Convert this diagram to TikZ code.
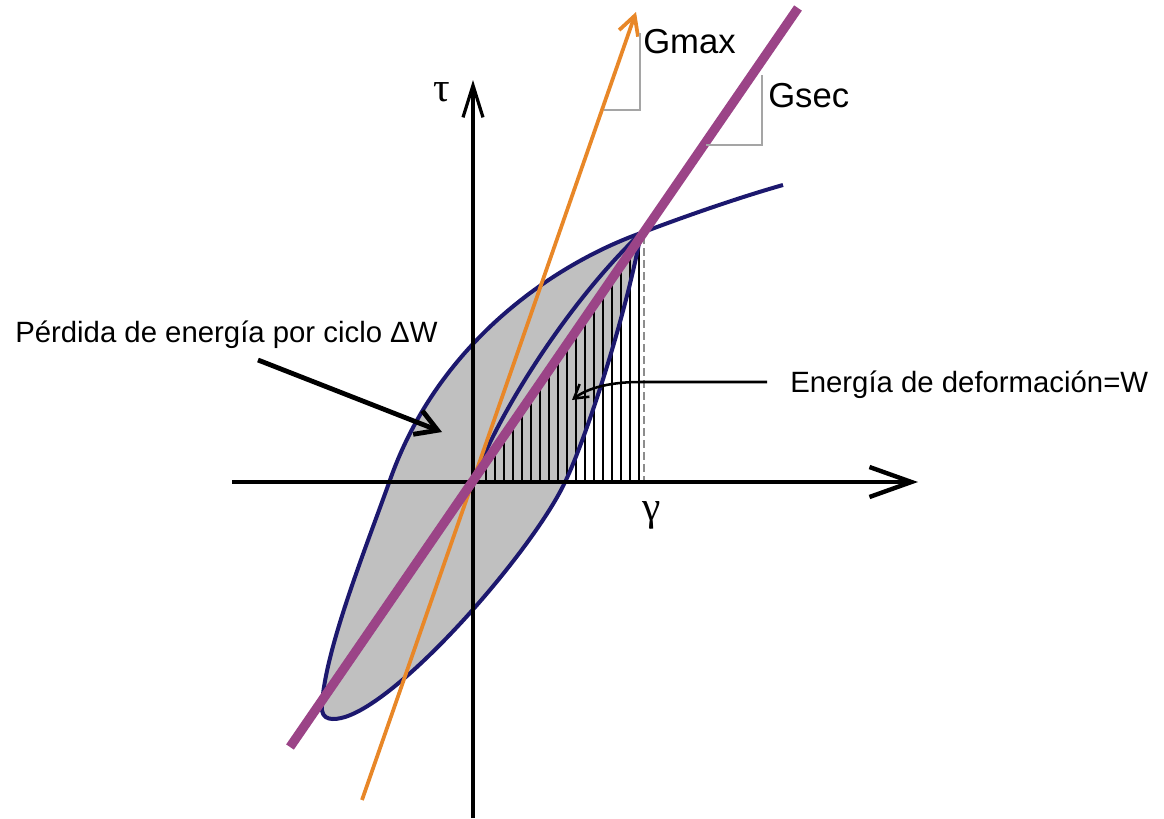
\documentclass[tikz,border=0pt]{standalone}
\usepackage{fontspec}
\setmainfont{Liberation Sans}
\newfontfamily\serifgreek{Liberation Serif}
\usetikzlibrary{arrows.meta}
\definecolor{loopblue}{RGB}{28,24,110}
\definecolor{loopgray}{RGB}{192,192,192}
\definecolor{gmaxorange}{RGB}{232,135,40}
\definecolor{gsecpurple}{RGB}{155,68,135}
\definecolor{slopegray}{RGB}{165,165,165}
\definecolor{dashgray}{RGB}{140,140,140}
\begin{document}
\begin{tikzpicture}[x=0.75pt,y=-0.75pt,
  lbl/.style={inner sep=0pt, font=\fontsize{22}{26}\selectfont},
  glbl/.style={inner sep=0pt, font=\fontsize{26}{30}\selectfont},
  greek/.style={inner sep=0pt, font=\serifgreek\fontsize{31}{34}\selectfont},
  loopline/.style={draw=loopblue, line width=3pt, line join=round},
  haxis/.style={black, line width=3.3pt, -{Straight Barb[length=31.5pt,width=22.5pt]}},
  vaxis/.style={black, line width=2.4pt, -{Straight Barb[length=24pt,width=15pt]}},
  gmaxline/.style={gmaxorange, line width=2.8pt, -{Straight Barb[length=14pt,width=15pt]}},
  gsecline/.style={gsecpurple, line width=7pt},
  hatchline/.style={black, line width=1.8pt},
  dashline/.style={dashgray, line width=1.8pt, dash pattern=on 6pt off 3pt},
  slopeline/.style={slopegray, line width=2.2pt},
  bigarrow/.style={black, line width=3.6pt, -{Straight Barb[length=16pt,width=19pt]}},
  thinarrow/.style={black, line width=1.9pt, -{Straight Barb[length=10pt,width=12pt]}}
]
\useasboundingbox (0,0) rectangle (1164,818);

% loop fill
\path[fill=loopgray] (641,233) .. controls (560,262) and (440,338) .. (390,480)
  .. controls (365,550) and (325,650) .. (322,705)
  .. controls (320,722) and (335,720) .. (345,717)
  .. controls (405,698) and (535,548) .. (566,480)
  .. controls (585,440) and (625,320) .. (641,233) -- cycle;

% hatching under the secant
\foreach \x in {477,486,...,639} {
  \draw[hatchline] (\x,482) -- (\x,{482-(\x-473)*1.482});
}
\coordinate (dtop) at (644,236);
\coordinate (dbot) at (644,482);
\draw[dashline] (dtop) -- (dbot);

% loop outline
\draw[loopline] (641,233) .. controls (560,262) and (440,338) .. (390,480)
  .. controls (365,550) and (325,650) .. (322,705)
  .. controls (320,722) and (335,720) .. (345,717)
  .. controls (405,698) and (535,548) .. (566,480)
  .. controls (585,440) and (625,320) .. (641,233);
% backbone curve
\coordinate (O) at (473,482);
\coordinate (peak) at (641,233);
\coordinate (bbend) at (783,185);
\draw[loopline] (O) .. controls (495,420) and (565,305) .. (peak);
\draw[loopline] (peak) .. controls (670,222) and (730,200) .. (bbend);

% axes
\coordinate (xs) at (232,482);
\coordinate (xe) at (918,482);
\coordinate (ys) at (473,818);
\coordinate (ye) at (473,80);
\draw[haxis] (xs) -- (xe);
\draw[vaxis] (ys) -- (ye);

% Gmax and Gsec lines
\coordinate (os) at (362,800);
\coordinate (oe) at (636,12);
\draw[gmaxline] (os) -- (oe);
\coordinate (ps) at (290,747);
\coordinate (pe) at (798,8);
\draw[gsecline] (ps) -- (pe);

% slope triangles
\draw[slopeline] (604,110) -- (640,110) -- (640,33);
\draw[slopeline] (706,145) -- (762,145) -- (762,75);

% labels
\node[glbl, anchor=base west] (gmax) at (643,53) {Gmax};
\node[glbl, anchor=base west] (gsec) at (768,107) {Gsec};
\node[greek] (tau) at (442,92) {τ};
\node[greek] (gam) at (652,515) {γ};
\node[lbl, anchor=base west] (perd) at (15,342) {Pérdida de energía por ciclo ΔW};
\node[lbl, anchor=base west] (ener) at (790,392) {Energía de deformación=W};

% pointer arrows
\coordinate (pa1) at (258,360);
\coordinate (pa2) at (442,432);
\draw[bigarrow] (pa1) -- (pa2);
\coordinate (ea1) at (767,382);
\coordinate (ea2) at (640,382);
\coordinate (ea3) at (572,400);
\draw[thinarrow] (ea1) -- (ea2) .. controls (605,382) and (585,390) .. (ea3);
\end{tikzpicture}
\end{document}
